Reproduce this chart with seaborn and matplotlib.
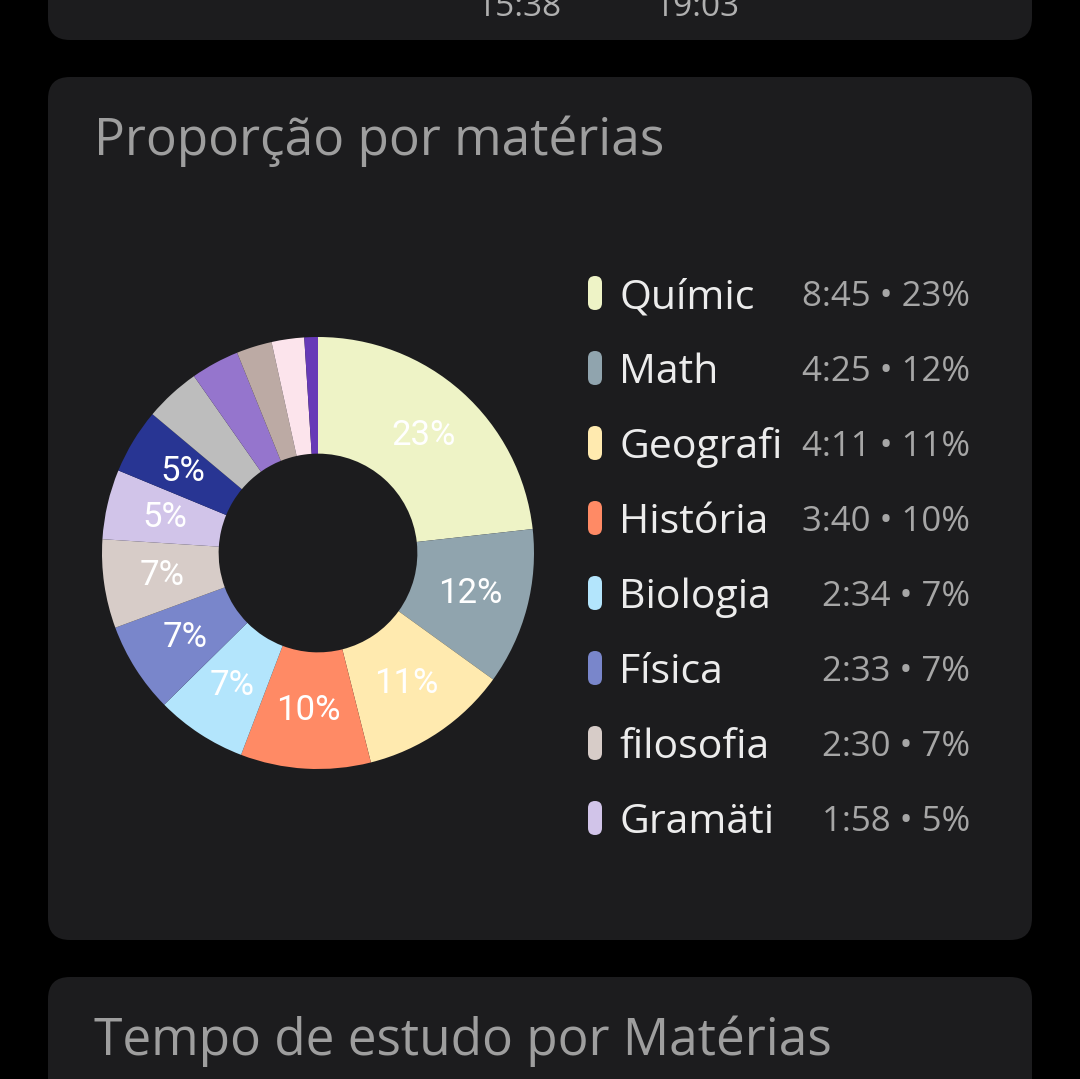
import matplotlib
matplotlib.use("Agg")
import matplotlib.pyplot as plt
import seaborn as sns
from matplotlib.patches import FancyBboxPatch

# ---- data ----
subjects = ["Químic", "Math", "Geografi", "História", "Biologia", "Física",
            "filosofia", "Gramäti", "Outra 1", "Outra 2", "Outra 3", "Outra 4",
            "Outra 5", "Outra 6"]
minutes = [525, 265, 251, 220, 154, 153, 150, 118, 110, 94, 82, 60, 55, 23]
colors = ["#eef3c6", "#90a4ae", "#ffeaaf", "#ff8a65", "#b3e5fc", "#7986cb",
          "#d7ccc8", "#d1c4e9", "#283593", "#bdbdbd", "#9575cd", "#bcaaa4",
          "#fce4ec", "#673ab7"]
legend_count = 8
top_card_times = ["15:38", "19:03"]
title_main = "Proporção por matérias"
title_next = "Tempo de estudo por Matérias"

sns.set_theme(style="dark")
plt.rcParams["font.family"] = ["Open Sans", "DejaVu Sans"]
UI = ["Open Sans", "DejaVu Sans"]

W, H = 1080, 1079
fig = plt.figure(figsize=(W / 100, H / 100), dpi=100)
fig.patch.set_facecolor("#000000")

bg = fig.add_axes([0, 0, 1, 1])
bg.set_xlim(0, W)
bg.set_ylim(H, 0)
bg.axis("off")
bg.set_facecolor("#000000")

card_c = "#1c1c1e"
def card(y0, y1):
    bg.add_patch(FancyBboxPatch((48, y0), 984, y1 - y0,
                                boxstyle="round,pad=0,rounding_size=22",
                                fc=card_c, ec="none"))

card(-60, 40)
card(77, 940)
card(977, 1200)

# top card partial times (cut by the top edge as in the screenshot)
for x, t in zip([520, 698], top_card_times):
    bg.text(x, 16, t, color="#b0b0b0", fontsize=24, ha="center",
            va="baseline", family=UI)

bg.text(94, 155, title_main, color="#9e9e9e", fontsize=37, va="baseline",
        ha="left", family=UI)
bg.text(94, 1055, title_next, color="#9e9e9e", fontsize=37, va="baseline",
        ha="left", family=UI)

# ---- donut ----
cx, cy, R = 318, 553, 216
ax = fig.add_axes([(cx - R) / W, 1 - (cy + R) / H, 2 * R / W, 2 * R / H])
ax.set_facecolor("none")
total = sum(minutes)
wedges, texts, autotexts = ax.pie(
    minutes, colors=colors, startangle=90, counterclock=False,
    radius=1, wedgeprops=dict(width=0.54, edgecolor="none", linewidth=0),
    autopct=lambda p: f"{p:.0f}%" if p >= 4.5 else "",
    pctdistance=0.73,
    textprops=dict(color="white", fontsize=25, family=["Roboto", "DejaVu Sans"]))
ax.set_xlim(-1, 1)
ax.set_ylim(-1, 1)
ax.set_aspect("equal")
ax.axis("off")

# ---- legend ----
y0, dy = 293, 75
for i in range(legend_count):
    y = y0 + i * dy
    bg.add_patch(FancyBboxPatch((588, y - 17), 14, 34,
                                boxstyle="round,pad=0,rounding_size=7",
                                fc=colors[i], ec="none"))
    bg.text(619, y, subjects[i], color="#ececec", fontsize=29.5,
            va="center_baseline", ha="left", family=UI)
    m = minutes[i]
    pct = 100 * m / total
    bg.text(970, y, f"{m // 60}:{m % 60:02d} \u2022 {pct:.0f}%",
            color="#a6a6a6", fontsize=25, va="center_baseline", ha="right",
            family=UI)

fig.savefig("out.png", dpi=100, facecolor=fig.get_facecolor())
